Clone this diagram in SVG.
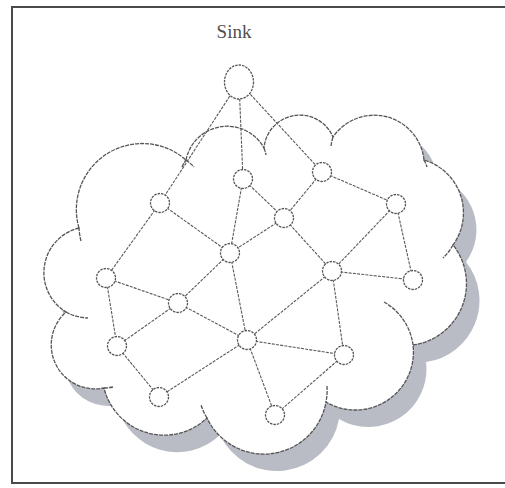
<svg xmlns="http://www.w3.org/2000/svg" width="505" height="488" viewBox="0 0 505 488">
<style>
.frame{fill:none;stroke:#4a4a4a;stroke-width:2}
.cloud{fill:#fff;stroke:#555;stroke-width:1.3;stroke-dasharray:4 1}
.shadow{fill:#b9bcc5;stroke:none}
.tail{fill:none;stroke:#555;stroke-width:1.3;stroke-dasharray:4 1}
.edge{stroke:#5a5a5a;stroke-width:1.1;stroke-dasharray:3 1.2;fill:none}
.node{fill:#fff;stroke:#555;stroke-width:1.3;stroke-dasharray:2.5 1}
.label{font-family:"Liberation Serif","Times New Roman",serif;font-size:19px;fill:#505050}
</style>
<defs>
<path id="cloudShape" d="M79,228 A66,66 0 0 1 186,160 A42,42 0 0 1 264,148 A36,36 0 0 1 333,137 A50,50 0 0 1 424,160 A55,55 0 0 1 453,245 A62,62 0 0 1 413,345 A58,58 0 0 1 326,402 A63,63 0 0 1 207,418 A62,62 0 0 1 104,388 A44,44 0 0 1 66,312 A46,46 0 0 1 79,228 Z"/>
</defs>
<path class="frame" d="M506,7 H12 V483 H506"/>
<g id="cloud">
<use href="#cloudShape" class="shadow" transform="translate(13,17)"/>
<use href="#cloudShape" class="cloud"/>
<path class="tail" d="M81,241 A66,66 0 0 1 79,228"/>
<path class="tail" d="M186,160 A66,66 0 0 1 194,167"/>
<path class="tail" d="M182,167 A42,42 0 0 1 186,160"/>
<path class="tail" d="M264,148 A42,42 0 0 1 266,155"/>
<path class="tail" d="M331,146 A50,50 0 0 1 333,137"/>
<path class="tail" d="M424,160 A50,50 0 0 1 427,167"/>
<path class="tail" d="M453,245 A55,55 0 0 1 443,258"/>
<path class="tail" d="M384,302 A58,58 0 0 1 413,345"/>
<path class="tail" d="M327,386 A63,63 0 0 1 326,402"/>
<path class="tail" d="M207,418 A63,63 0 0 1 201,405"/>
<path class="tail" d="M113,387 A44,44 0 0 1 104,388"/>
<path class="tail" d="M66,312 A46,46 0 0 0 88,318"/>
</g>
<text class="label" x="234" y="38" text-anchor="middle">Sink</text>
<g id="connectors">
<line class="edge" x1="239" y1="82" x2="160" y2="203"/>
<line class="edge" x1="239" y1="82" x2="243" y2="179"/>
<line class="edge" x1="239" y1="82" x2="322" y2="172"/>
<line class="edge" x1="160" y1="203" x2="106" y2="278"/>
<line class="edge" x1="160" y1="203" x2="230" y2="253"/>
<line class="edge" x1="243" y1="179" x2="230" y2="253"/>
<line class="edge" x1="243" y1="179" x2="284" y2="218"/>
<line class="edge" x1="322" y1="172" x2="284" y2="218"/>
<line class="edge" x1="322" y1="172" x2="396" y2="204"/>
<line class="edge" x1="284" y1="218" x2="230" y2="253"/>
<line class="edge" x1="284" y1="218" x2="332" y2="271"/>
<line class="edge" x1="396" y1="204" x2="332" y2="271"/>
<line class="edge" x1="396" y1="204" x2="413" y2="280"/>
<line class="edge" x1="332" y1="271" x2="413" y2="280"/>
<line class="edge" x1="106" y1="278" x2="178" y2="303"/>
<line class="edge" x1="106" y1="278" x2="117" y2="346"/>
<line class="edge" x1="230" y1="253" x2="178" y2="303"/>
<line class="edge" x1="230" y1="253" x2="247" y2="340"/>
<line class="edge" x1="332" y1="271" x2="247" y2="340"/>
<line class="edge" x1="332" y1="271" x2="344" y2="355"/>
<line class="edge" x1="178" y1="303" x2="117" y2="346"/>
<line class="edge" x1="178" y1="303" x2="247" y2="340"/>
<line class="edge" x1="117" y1="346" x2="159" y2="397"/>
<line class="edge" x1="247" y1="340" x2="159" y2="397"/>
<line class="edge" x1="247" y1="340" x2="344" y2="355"/>
<line class="edge" x1="247" y1="340" x2="275" y2="415"/>
<line class="edge" x1="344" y1="355" x2="275" y2="415"/>
</g>
<g id="sink"><ellipse class="node" cx="239" cy="82" rx="14.5" ry="17"/></g>
<g id="n1"><circle class="node" cx="160" cy="203" r="9.5"/></g>
<g id="n2"><circle class="node" cx="243" cy="179" r="9.5"/></g>
<g id="n3"><circle class="node" cx="322" cy="172" r="9.5"/></g>
<g id="n4"><circle class="node" cx="396" cy="204" r="9.5"/></g>
<g id="n5"><circle class="node" cx="284" cy="218" r="9.5"/></g>
<g id="n6"><circle class="node" cx="230" cy="253" r="9.5"/></g>
<g id="n7"><circle class="node" cx="106" cy="278" r="9.5"/></g>
<g id="n8"><circle class="node" cx="332" cy="271" r="9.5"/></g>
<g id="n9"><circle class="node" cx="413" cy="280" r="9.5"/></g>
<g id="n10"><circle class="node" cx="178" cy="303" r="9.5"/></g>
<g id="n11"><circle class="node" cx="117" cy="346" r="9.5"/></g>
<g id="n12"><circle class="node" cx="247" cy="340" r="9.5"/></g>
<g id="n13"><circle class="node" cx="344" cy="355" r="9.5"/></g>
<g id="n14"><circle class="node" cx="159" cy="397" r="9.5"/></g>
<g id="n15"><circle class="node" cx="275" cy="415" r="9.5"/></g>
</svg>
